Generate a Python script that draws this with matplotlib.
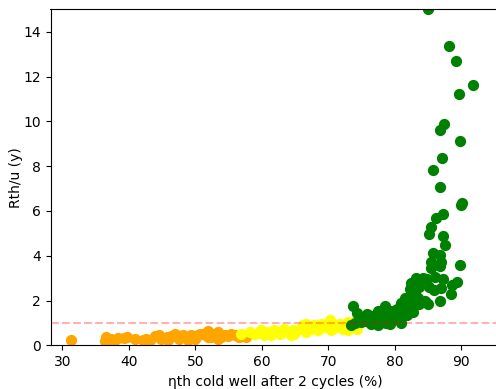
import numpy as np
import matplotlib
matplotlib.use("Agg")
import matplotlib.pyplot as plt

# orange group (low efficiency)
orange_x = [31.3, 36.4, 36.6, 37.3, 37.9, 38.4, 39.3, 39.7, 40.9, 42.1, 42.6, 43.2,
            44.6, 44.9, 45.7, 45.9, 46.9, 47.6, 48.1, 48.9, 48.9, 49.4, 49.9, 50.4,
            50.7, 51.1, 51.9, 51.9, 52.3, 52.9, 53.4, 53.4, 53.9, 54.5, 55.4, 55.9,
            56.6, 57.6, 37.0, 44.0, 47.2, 50.0, 52.6, 54.9, 46.3, 53.0]
orange_y = [0.22, 0.20, 0.35, 0.30, 0.25, 0.33, 0.33, 0.37, 0.30, 0.25, 0.27, 0.22,
            0.45, 0.30, 0.35, 0.22, 0.52, 0.30, 0.45, 0.37, 0.22, 0.48, 0.35, 0.45,
            0.52, 0.50, 0.64, 0.37, 0.37, 0.52, 0.60, 0.30, 0.37, 0.45, 0.52, 0.48,
            0.35, 0.37, 0.25, 0.40, 0.40, 0.30, 0.45, 0.40, 0.42, 0.45]

# yellow group (middle)
yellow_x = [56.9, 58.2, 58.9, 59.9, 60.4, 60.9, 61.4, 61.9, 62.7, 63.4, 63.9, 64.4,
            64.7, 64.9, 65.7, 66.2, 66.7, 66.7, 67.4, 67.9, 68.4, 68.9, 69.7, 70.2,
            70.4, 70.9, 71.7, 72.2, 72.9, 72.9, 73.7, 74.2, 74.4, 74.7,
            59.4, 62.3, 65.2, 68.0, 69.3, 71.2, 73.3]
yellow_y = [0.52, 0.60, 0.52, 0.67, 0.45, 0.60, 0.45, 0.67, 0.52, 0.75, 0.60, 0.48,
            0.67, 0.52, 0.75, 0.89, 0.97, 0.60, 0.75, 0.89, 0.67, 0.97, 0.82, 1.11,
            0.67, 0.89, 0.97, 0.75, 0.67, 1.04, 0.89, 1.11, 0.75, 1.04,
            0.55, 0.58, 0.65, 0.80, 0.90, 0.80, 0.95]

# green group (high efficiency)
green_x = [85.0, 88.1, 89.3, 91.8, 89.7, 87.4, 86.8, 89.8, 87.1, 85.7, 86.8, 90.2,
           90.0, 87.3, 86.2, 85.5, 85.1, 87.2, 87.6, 85.7, 86.8, 85.5, 87.0, 86.8,
           85.5, 89.85, 86.0, 87.3, 83.2, 84.3, 83.7, 85.2, 85.9, 87.0, 89.4, 88.7,
           88.5, 86.8, 85.0, 82.3, 82.3, 81.6, 80.9, 83.2, 83.7, 82.8, 81.5, 80.5,
           80.5, 79.5, 78.5, 77.5, 78.5, 77.5, 76.5, 75.8, 75.5, 76.5, 77.5, 78.7,
           74.8, 74.3, 73.7, 75.0, 73.5, 79.7,
           76.0, 77.0, 78.0, 79.0, 79.3, 80.0, 81.0, 81.8, 82.0, 83.5, 84.0, 84.8,
           82.5, 83.0, 84.5, 81.0, 79.0, 76.8, 75.3, 74.0, 78.2, 80.3, 82.7]
green_y = [15.0, 13.37, 12.69, 11.6, 11.23, 9.9, 9.59, 9.12, 8.34, 7.83, 7.07, 6.34,
           6.26, 5.86, 5.69, 5.29, 4.98, 4.90, 4.46, 4.13, 4.04, 3.74, 3.73, 3.55,
           3.47, 3.60, 3.05, 2.98, 3.0, 3.0, 2.6, 2.6, 2.45, 2.58, 2.82, 2.68,
           2.28, 1.98, 1.84, 2.5, 2.2, 2.1, 1.9, 1.95, 1.85, 1.5, 1.7, 1.45,
           1.2, 1.55, 1.75, 1.55, 1.35, 1.15, 1.3, 1.4, 1.1, 0.95, 0.9, 1.0,
           1.25, 1.45, 1.75, 1.05, 0.9, 1.3,
           1.2, 1.05, 1.2, 1.1, 0.95, 1.3, 1.5, 1.35, 1.7, 2.1, 2.9, 2.95,
           2.8, 2.35, 2.0, 1.0, 1.45, 1.1, 1.25, 1.0, 1.05, 1.6, 1.9]

fig = plt.figure(figsize=(4.96, 3.89), dpi=100)
ax = fig.add_axes([50.5 / 496, 43.7 / 389, 450.5 / 496, 336 / 389])

ax.scatter(orange_x, orange_y, color="orange", s=50)
ax.scatter(yellow_x, yellow_y, color="yellow", s=50)
ax.scatter(green_x, green_y, color="green", s=50)
ax.axhline(1, color="red", alpha=0.3, linestyle="--")

ax.set_xlim(28.2, 96)
ax.set_ylim(0, 15)
ax.set_xticks([30, 40, 50, 60, 70, 80, 90])
ax.set_yticks([0, 2, 4, 6, 8, 10, 12, 14])
ax.set_xlabel("ηth cold well after 2 cycles (%)")
ax.set_ylabel("Rth/u (y)")
ax.yaxis.set_label_coords(-0.061, 0.5)

fig.savefig("out.png", dpi=100)
